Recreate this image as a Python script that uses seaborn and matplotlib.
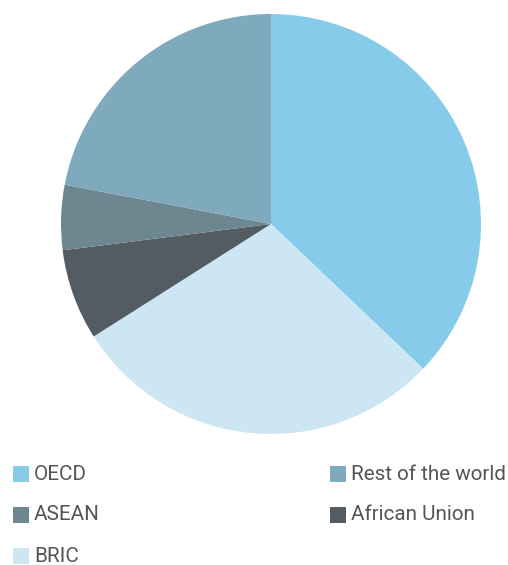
import seaborn as sns
import matplotlib.pyplot as plt
from matplotlib.patches import Rectangle

# share of slices, clockwise from 12 o'clock
labels = ['OECD', 'BRIC', 'African Union', 'ASEAN', 'Rest of the world']
shares = [37.1, 28.9, 7.0, 5.0, 22.0]
colors = ['#87cbea', '#cce7f3', '#535c63', '#6e8690', '#7fa9bc']

# legend layout order (2 columns, row by row)
legend_order = ['OECD', 'Rest of the world', 'ASEAN', 'African Union', 'BRIC']

sns.set_style('white')
plt.rcParams['font.family'] = ['Roboto', 'DejaVu Sans']

W, H = 508, 565
fig = plt.figure(figsize=(W / 100, H / 100), dpi=100)
ax = fig.add_axes([(271 - 210) / W, (H - 434) / H, 420 / W, 420 / H])
palette = sns.color_palette(colors)
ax.pie(shares, colors=palette, startangle=90, counterclock=False,
       radius=1, wedgeprops={'linewidth': 0})
ax.set_xlim(-1, 1)
ax.set_ylim(-1, 1)
ax.set_aspect('equal')
ax.axis('off')

col_x = [13, 330]
row_y = [474, 515, 556]
sq = 16
cmap = dict(zip(labels, palette))
for i, name in enumerate(legend_order):
    x = col_x[i % 2]
    y = row_y[i // 2]
    fig.patches.append(Rectangle((x / W, (H - y - sq / 2) / H), sq / W, sq / H,
                                 transform=fig.transFigure, color=cmap[name],
                                 linewidth=0))
    fig.text((x + sq + 5) / W, (H - y) / H, name, fontsize=14.9, color='#555555',
             va='center', ha='left')

fig.savefig('out.png', dpi=100)
